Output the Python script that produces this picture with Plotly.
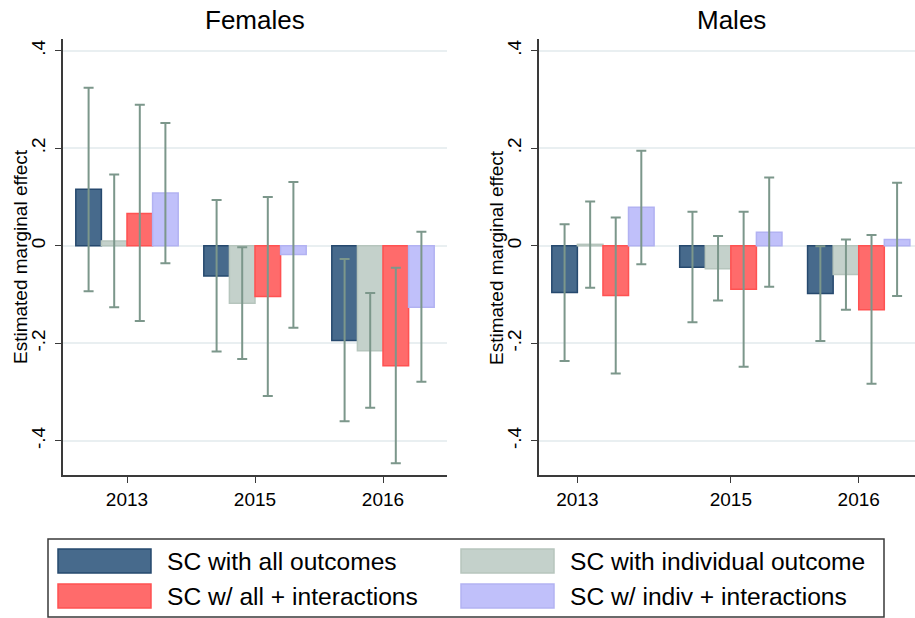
import plotly.graph_objects as go

W, H = 915, 618

years = ["2013", "2015", "2016"]
year_pos = [1, 2, 3]
series_names = ["SC with all outcomes", "SC with individual outcome",
                "SC w/ all + interactions", "SC w/ indiv + interactions"]
ytick_vals = [-0.4, -0.2, 0, 0.2, 0.4]
ytick_text = ["-.4", "-.2", "0", ".2", ".4"]

# Females: estimate, lower, upper (per series, per year)
fem_est = [[0.116, -0.062, -0.194],
           [0.010, -0.118, -0.215],
           [0.066, -0.104, -0.246],
           [0.108, -0.018, -0.126]]
fem_lo = [[-0.093, -0.217, -0.360],
          [-0.126, -0.232, -0.332],
          [-0.154, -0.308, -0.446],
          [-0.036, -0.168, -0.279]]
fem_hi = [[0.324, 0.094, -0.027],
          [0.146, -0.003, -0.097],
          [0.289, 0.100, -0.045],
          [0.252, 0.131, 0.029]]

# Males
mal_est = [[-0.096, -0.044, -0.098],
           [0.003, -0.047, -0.059],
           [-0.102, -0.089, -0.131],
           [0.079, 0.028, 0.013]]
mal_lo = [[-0.236, -0.157, -0.195],
          [-0.086, -0.112, -0.131],
          [-0.262, -0.248, -0.283],
          [-0.038, -0.084, -0.103]]
mal_hi = [[0.044, 0.070, -0.001],
          [0.091, 0.020, 0.013],
          [0.058, 0.070, 0.022],
          [0.195, 0.140, 0.129]]

fills = ["#476a8c", "#c4d1cb", "#ff6b6b", "#c0c0fa"]
edges = ["#26496e", "#b6c5bd", "#ff5252", "#b2b2f2"]
err_col = "#7c978b"
font = "Liberation Sans, Arial, sans-serif"

fig = go.Figure()


def add_panel(est, lo, hi, xa, ya):
    for i, name in enumerate(series_names):
        fig.add_trace(go.Bar(
            x=year_pos, y=est[i], name=name, showlegend=False,
            xaxis=xa, yaxis=ya, offsetgroup=str(i),
            marker=dict(color=fills[i], line=dict(color=edges[i], width=1.5)),
            error_y=dict(type="data", symmetric=False,
                         array=[h - e for h, e in zip(hi[i], est[i])],
                         arrayminus=[e - l for e, l in zip(est[i], lo[i])],
                         color=err_col, thickness=2, width=5),
        ))


add_panel(fem_est, fem_lo, fem_hi, "x", "y")
add_panel(mal_est, mal_lo, mal_hi, "x2", "y2")

y_dom = [1 - 475 / H, 1 - 39 / H]
yrange = [-0.470, 0.424]

xcommon = dict(showgrid=False, zeroline=False, showline=True, linecolor="#3a3a3a",
               linewidth=1.5, ticks="outside", ticklen=6, tickcolor="#3a3a3a",
               tickfont=dict(size=19, color="black", family=font))
ycommon = dict(range=yrange, tickvals=ytick_vals, ticktext=ytick_text,
               showgrid=True, gridcolor="#e9eff1", gridwidth=1.5, zeroline=False,
               showline=True, linecolor="#3a3a3a", linewidth=1.5,
               ticks="outside", ticklen=6, tickcolor="#3a3a3a", tickangle=-90,
               ticklabelstandoff=3,
               tickfont=dict(size=19, color="black", family=font))

fig.update_layout(
    width=W, height=H,
    margin=dict(l=0, r=0, t=0, b=0),
    paper_bgcolor="white", plot_bgcolor="white",
    barmode="group", bargap=0.2, bargroupgap=0,
    font=dict(family=font, color="black"),
    hovermode=False,
    xaxis=dict(domain=[63 / W, 447 / W], range=[0.5, 3.5], anchor="y",
               tickvals=year_pos, ticktext=years, **xcommon),
    xaxis2=dict(domain=[539 / W, 1.0], range=[0.5, 3.44], anchor="y2",
                tickvals=[0.8, 2, 3], ticktext=years, **xcommon),
    yaxis=dict(domain=y_dom, anchor="x", **ycommon),
    yaxis2=dict(domain=y_dom, anchor="x2", **ycommon),
)

# panel titles and y-axis titles
for title, xc, yt in [("Females", 255, 20), ("Males", 731, 496)]:
    fig.add_annotation(text=title, x=xc / W, y=1 - 20 / H, xref="paper", yref="paper",
                       showarrow=False, xanchor="center", yanchor="middle",
                       font=dict(size=26, color="black", family=font))
    fig.add_annotation(text="Estimated marginal effect", x=yt / W,
                       y=1 - 257 / H, xref="paper", yref="paper", textangle=-90,
                       showarrow=False, xanchor="center", yanchor="middle",
                       font=dict(size=19, color="black", family=font))

# legend box drawn by hand (Stata style)
fig.add_shape(type="rect", xref="paper", yref="paper",
              x0=48 / W, x1=884 / W, y0=1 - 617 / H, y1=1 - 539 / H,
              line=dict(color="#3a3a3a", width=1.5), fillcolor="white")
slots = [(58, 549), (461, 549), (58, 584), (461, 584)]
for k, (sx, sy) in enumerate(slots):
    fig.add_shape(type="rect", xref="paper", yref="paper",
                  x0=sx / W, x1=(sx + 93) / W, y0=1 - (sy + 24) / H, y1=1 - sy / H,
                  line=dict(color=edges[k], width=1.5), fillcolor=fills[k])
    fig.add_annotation(text=series_names[k], x=(sx + 107) / W, y=1 - (sy + 12) / H,
                       xref="paper", yref="paper", showarrow=False,
                       xanchor="left", yanchor="middle",
                       font=dict(size=24.6, color="black", family=font))

fig.write_html("out.html", config={"displayModeBar": False},
               post_script="document.body.style.margin='0';document.body.style.overflow='hidden';")
